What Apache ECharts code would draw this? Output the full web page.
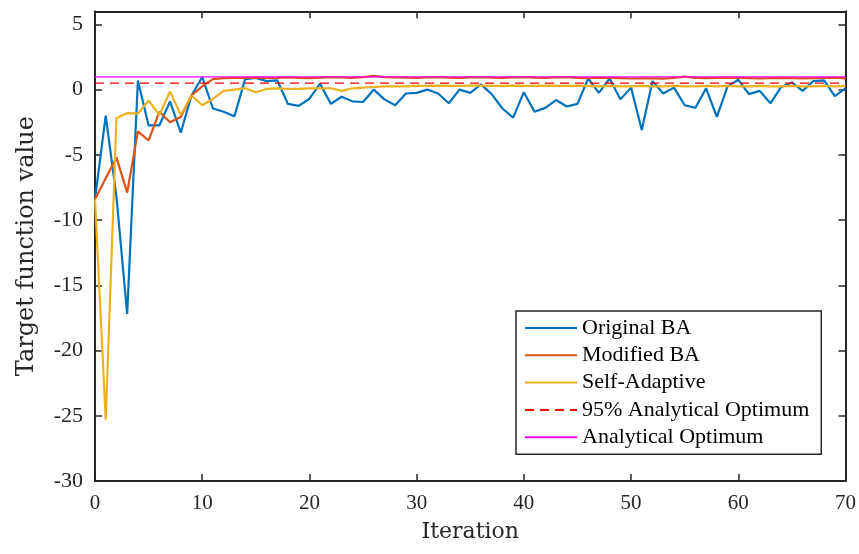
<!DOCTYPE html>
<html>
<head>
<meta charset="utf-8">
<script src="https://cdn.jsdelivr.net/npm/echarts@6/dist/echarts.min.js"></script>
<style>
  html, body { margin: 0; padding: 0; background: #fff; }
  #chart { width: 859px; height: 554px; }
</style>
</head>
<body>
<div id="chart"></div>
<script>
// iterations 0..70
const ITERATIONS = [
  0, 1, 2, 3, 4, 5, 6, 7, 8, 9, 10, 11, 12, 13, 14, 15, 16, 17, 18, 19,
  20, 21, 22, 23, 24, 25, 26, 27, 28, 29, 30, 31, 32, 33, 34, 35, 36, 37, 38, 39,
  40, 41, 42, 43, 44, 45, 46, 47, 48, 49, 50, 51, 52, 53, 54, 55, 56, 57, 58, 59,
  60, 61, 62, 63, 64, 65, 66, 67, 68, 69, 70
]

const ORIGINAL_BA = [
  -8.4, -2.0, -8.2, -17.2, 0.7, -2.75, -2.75, -0.9, -3.3, -0.45,
  0.97, -1.45, -1.7, -2.05, 0.8, 0.9, 0.65, 0.7, -1.1, -1.25,
  -0.7, 0.45, -1.1, -0.55, -0.9, -0.95, 0.0, -0.75, -1.2, -0.3,
  -0.25, 0.0, -0.3, -1.05, 0.0, -0.25, 0.4, -0.35, -1.45, -2.15,
  -0.2, -1.7, -1.4, -0.8, -1.3, -1.1, 0.85, -0.25, 0.85, -0.75,
  0.15, -3.1, 0.65, -0.3, 0.15, -1.2, -1.4, 0.1, -2.1, 0.25,
  0.75, -0.35, -0.1, -1.05, 0.2, 0.55, -0.1, 0.65, 0.7, -0.5,
  0.1
]

const MODIFIED_BA = [
  -8.4, -6.8, -5.2, -7.9, -3.2, -3.9, -1.7, -2.5, -2.1, -0.45,
  0.25, 0.8, 0.88, 0.9, 0.9, 0.92, 0.9, 0.9, 0.93, 0.9,
  0.88, 0.92, 0.95, 0.93, 0.9, 0.95, 1.05, 0.95, 0.93, 0.92,
  0.9, 0.93, 0.95, 0.92, 0.9, 0.93, 0.95, 0.92, 0.9, 0.93,
  0.95, 0.92, 0.9, 0.93, 0.95, 0.9, 0.88, 0.92, 0.9, 0.88,
  0.85, 0.87, 0.86, 0.84, 0.9, 1.0, 0.9, 0.88, 0.9, 0.92,
  0.9, 0.88, 0.86, 0.88, 0.9, 0.88, 0.86, 0.88, 0.9, 0.92,
  0.86
]

const SELF_ADAPTIVE = [
  -8.4, -25.3, -2.2, -1.8, -1.85, -0.85, -1.95, -0.15, -1.95, -0.45,
  -1.2, -0.7, -0.1, 0.0, 0.1, -0.2, 0.05, 0.1, 0.05, 0.05,
  0.1, 0.1, 0.1, -0.1, 0.1, 0.15, 0.2, 0.25, 0.25, 0.25,
  0.28, 0.28, 0.3, 0.28, 0.28, 0.3, 0.3, 0.28, 0.28, 0.3,
  0.28, 0.28, 0.3, 0.28, 0.28, 0.3, 0.28, 0.25, 0.28, 0.25,
  0.25, 0.28, 0.25, 0.25, 0.28, 0.25, 0.25, 0.28, 0.25, 0.28,
  0.25, 0.25, 0.28, 0.25, 0.25, 0.28, 0.25, 0.25, 0.28, 0.25,
  0.28
]

const ANALYTICAL_OPTIMUM = 0.97
const OPTIMUM_95 = 0.5

const Y_TICKS = [-30, -25, -20, -15, -10, -5, 0, 5]

const SERIF = '"Liberation Serif", "Times New Roman", serif'
const AXIS_COLOR = '#262626'

const pairs = (ys) => ITERATIONS.map((x, i) => [x, ys[i]])
const flat = (v) => ITERATIONS.map((x) => [x, v])

const chart = echarts.init(document.getElementById('chart'))

const axisCommon = {
  axisLine: { show: true, onZero: false, lineStyle: { color: AXIS_COLOR, width: 2 } },
  axisTick: { show: true, inside: true, length: 7, lineStyle: { color: AXIS_COLOR, width: 1.5 } },
  splitLine: { show: false },
}

const line = (name, data, color, extra) => Object.assign({
  name,
  type: 'line',
  data,
  symbol: 'none',
  showSymbol: false,
  lineStyle: { color, width: 2.2 },
  itemStyle: { color },
  z: 3,
}, extra || {})

chart.setOption({
  animation: false,
  backgroundColor: '#fff',
  grid: { left: 95, right: 11, top: 11.3, bottom: 73, containLabel: false },
  xAxis: [
    {
      ...axisCommon,
      type: 'value', min: 0, max: 70, interval: 10,
      position: 'bottom',
      name: 'Iteration', nameLocation: 'middle', nameGap: 40,
      nameTextStyle: { fontFamily: '"DejaVu Serif", serif', fontSize: 22, color: AXIS_COLOR },
      axisLabel: { fontFamily: SERIF, fontSize: 21, color: AXIS_COLOR, margin: 12 },
    },
    {
      ...axisCommon,
      type: 'value', min: 0, max: 70, interval: 10,
      position: 'top',
      axisLabel: { show: false },
    },
  ],
  yAxis: [
    {
      ...axisCommon,
      type: 'value', min: Y_TICKS[0], max: 6, interval: 5,
      position: 'left',
      name: 'Target function value', nameLocation: 'middle', nameGap: 56,
      nameTextStyle: { fontFamily: '"DejaVu Serif", serif', fontSize: 24, color: AXIS_COLOR },
      axisLabel: {
        fontFamily: SERIF, fontSize: 22, color: AXIS_COLOR, margin: 12,
        formatter: (v) => (Y_TICKS.includes(v) ? String(v) : ''),
      },
    },
    {
      ...axisCommon,
      type: 'value', min: Y_TICKS[0], max: 6, interval: 5,
      position: 'right',
      axisLabel: { show: false },
    },
  ],
  legend: {
    orient: 'vertical',
    left: 516,
    top: 311,
    backgroundColor: '#fff',
    borderColor: AXIS_COLOR,
    borderWidth: 1.5,
    borderRadius: 0,
    padding: [6, 12, 6, 8],
    itemWidth: 52,
    itemHeight: 14,
    itemGap: 5.3,
    itemStyle: { opacity: 0, borderWidth: 0 },
    textStyle: { fontFamily: SERIF, fontSize: 22, color: '#000', lineHeight: 22 },
    data: ['Original BA', 'Modified BA', 'Self-Adaptive', '95% Analytical Optimum', 'Analytical Optimum'],
  },
  series: [
    line('Original BA', pairs(ORIGINAL_BA), '#0072BD'),
    line('Modified BA', pairs(MODIFIED_BA), '#D95319'),
    line('Self-Adaptive', pairs(SELF_ADAPTIVE), '#EDB120'),
    line('95% Analytical Optimum', flat(OPTIMUM_95), '#FF0000', {
      lineStyle: { color: '#FF0000', width: 1.3, type: [9, 6] },
    }),
    line('Analytical Optimum', flat(ANALYTICAL_OPTIMUM), '#FF00FF', {
      lineStyle: { color: '#FF00FF', width: 1.3 },
    }),
  ],
})
</script>
</body>
</html>
